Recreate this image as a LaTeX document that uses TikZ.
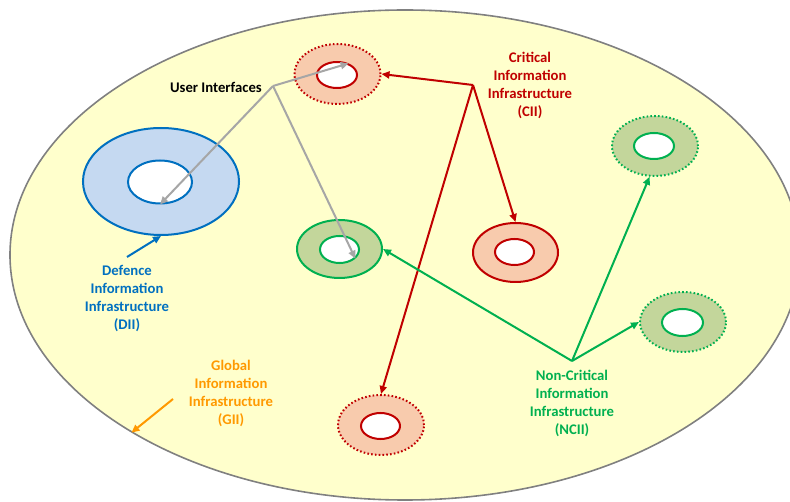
\documentclass[tikz,border=0pt]{standalone}
\usepackage{fontspec}
\setmainfont{Carlito}
\usetikzlibrary{arrows.meta,shapes.geometric}
\definecolor{giifill}{HTML}{FFFFCC}
\definecolor{giiline}{HTML}{808080}
\definecolor{giitext}{HTML}{FF9900}
\definecolor{diiblue}{HTML}{0070C0}
\definecolor{diifill}{HTML}{C5D9F1}
\definecolor{ciired}{HTML}{C00000}
\definecolor{ciifill}{HTML}{F8CBAD}
\definecolor{nciigreen}{HTML}{00B050}
\definecolor{nciifill}{HTML}{C3D69B}
\definecolor{uigray}{HTML}{A6A6A6}
\begin{document}
\begin{tikzpicture}[x=1pt,y=-1pt,
  ring/.style={ellipse, inner sep=0pt, minimum width=86pt, minimum height=60pt, line width=2pt},
  dotring/.style={ring, dash pattern=on 1.6pt off 2.2pt},
  hole/.style={ellipse, inner sep=0pt, minimum width=40pt, minimum height=26pt, line width=2pt, fill=white},
  link/.style={line width=2pt, -{Triangle[length=8pt,width=7pt]}},
  lbl/.style={font=\bfseries\fontsize{14.7}{18}\selectfont, align=center, inner sep=0pt}]
\useasboundingbox (0,0) rectangle (790,502);

% global information infrastructure
\node[ellipse, draw=giiline, fill=giifill, line width=1.6pt, inner sep=0pt,
      minimum width=790pt, minimum height=490pt] (gii) at (405,255) {};

% defence information infrastructure
\node[ring, draw=diiblue, fill=diifill, minimum width=156pt, minimum height=107pt] (dii) at (161,181.5) {};
\node[hole, draw=diiblue, minimum width=64pt, minimum height=43pt] (dii-in) at (160,182) {};

% critical information infrastructure
\node[dotring, draw=ciired, fill=ciifill] (cii-a) at (337.5,74) {};
\node[hole, draw=ciired] (cii-a-in) at (337,75) {};
\node[ring, draw=ciired, fill=ciifill, minimum width=85pt, minimum height=59pt] (cii-b) at (515.5,252.5) {};
\node[hole, draw=ciired, minimum width=39pt] (cii-b-in) at (514.5,252) {};
\node[dotring, draw=ciired, fill=ciifill] (cii-c) at (381,425) {};
\node[hole, draw=ciired, minimum width=39pt] (cii-c-in) at (380.5,426) {};

% non-critical information infrastructure
\node[ring, draw=nciigreen, fill=nciifill, minimum width=85pt, minimum height=58pt] (ncii-a) at (339.5,249) {};
\node[hole, draw=nciigreen, minimum width=39pt, minimum height=27pt] (ncii-a-in) at (339.5,249.5) {};
\node[dotring, draw=nciigreen, fill=nciifill] (ncii-b) at (655,146) {};
\node[hole, draw=nciigreen] (ncii-b-in) at (654,146) {};
\node[dotring, draw=nciigreen, fill=nciifill] (ncii-c) at (683,322) {};
\node[hole, draw=nciigreen, minimum width=41pt, minimum height=27pt] (ncii-c-in) at (682.5,322.5) {};

% labels
\node[lbl, anchor=east] (ui-lbl) at (262,87) {User Interfaces};
\node[lbl, text=ciired] (cii-lbl) at (530,85) {Critical\\Information\\Infrastructure\\(CII)};
\node[lbl, text=diiblue] (dii-lbl) at (127,298.5) {Defence\\Information\\Infrastructure\\(DII)};
\node[lbl, text=giitext] (gii-lbl) at (231,393) {Global\\Information\\Infrastructure\\(GII)};
\node[lbl, text=nciigreen] (ncii-lbl) at (572,403) {Non-Critical\\Information\\Infrastructure\\(NCII)};

% branch points of the connectors
\coordinate (ui) at (273,86);
\coordinate (cj) at (473,85);
\coordinate (nj) at (572,361);
\coordinate (dii-tail) at (127,257);
\coordinate (gii-tail) at (173,399);

% connectors
\draw[link, uigray] (ui) -- (cii-a-in.45);
\draw[link, uigray] (ui) -- (dii-in.south);
\draw[link, uigray] (ui) -- (ncii-a-in.-30);
\draw[link, ciired] (cj) -- (cii-a.east);
\draw[link, ciired] (cj) -- (cii-b.north);
\draw[link, ciired] (cj) -- (cii-c.north);
\draw[link, nciigreen] (nj) -- (ncii-a.east);
\draw[link, nciigreen] (nj) -- (ncii-b.-100);
\draw[link, nciigreen] (nj) -- (ncii-c.west);
\draw[link, diiblue] (dii-tail) -- (dii.south);
\draw[link, giitext] (gii-tail) -- (gii.-147);
\end{tikzpicture}
\end{document}
